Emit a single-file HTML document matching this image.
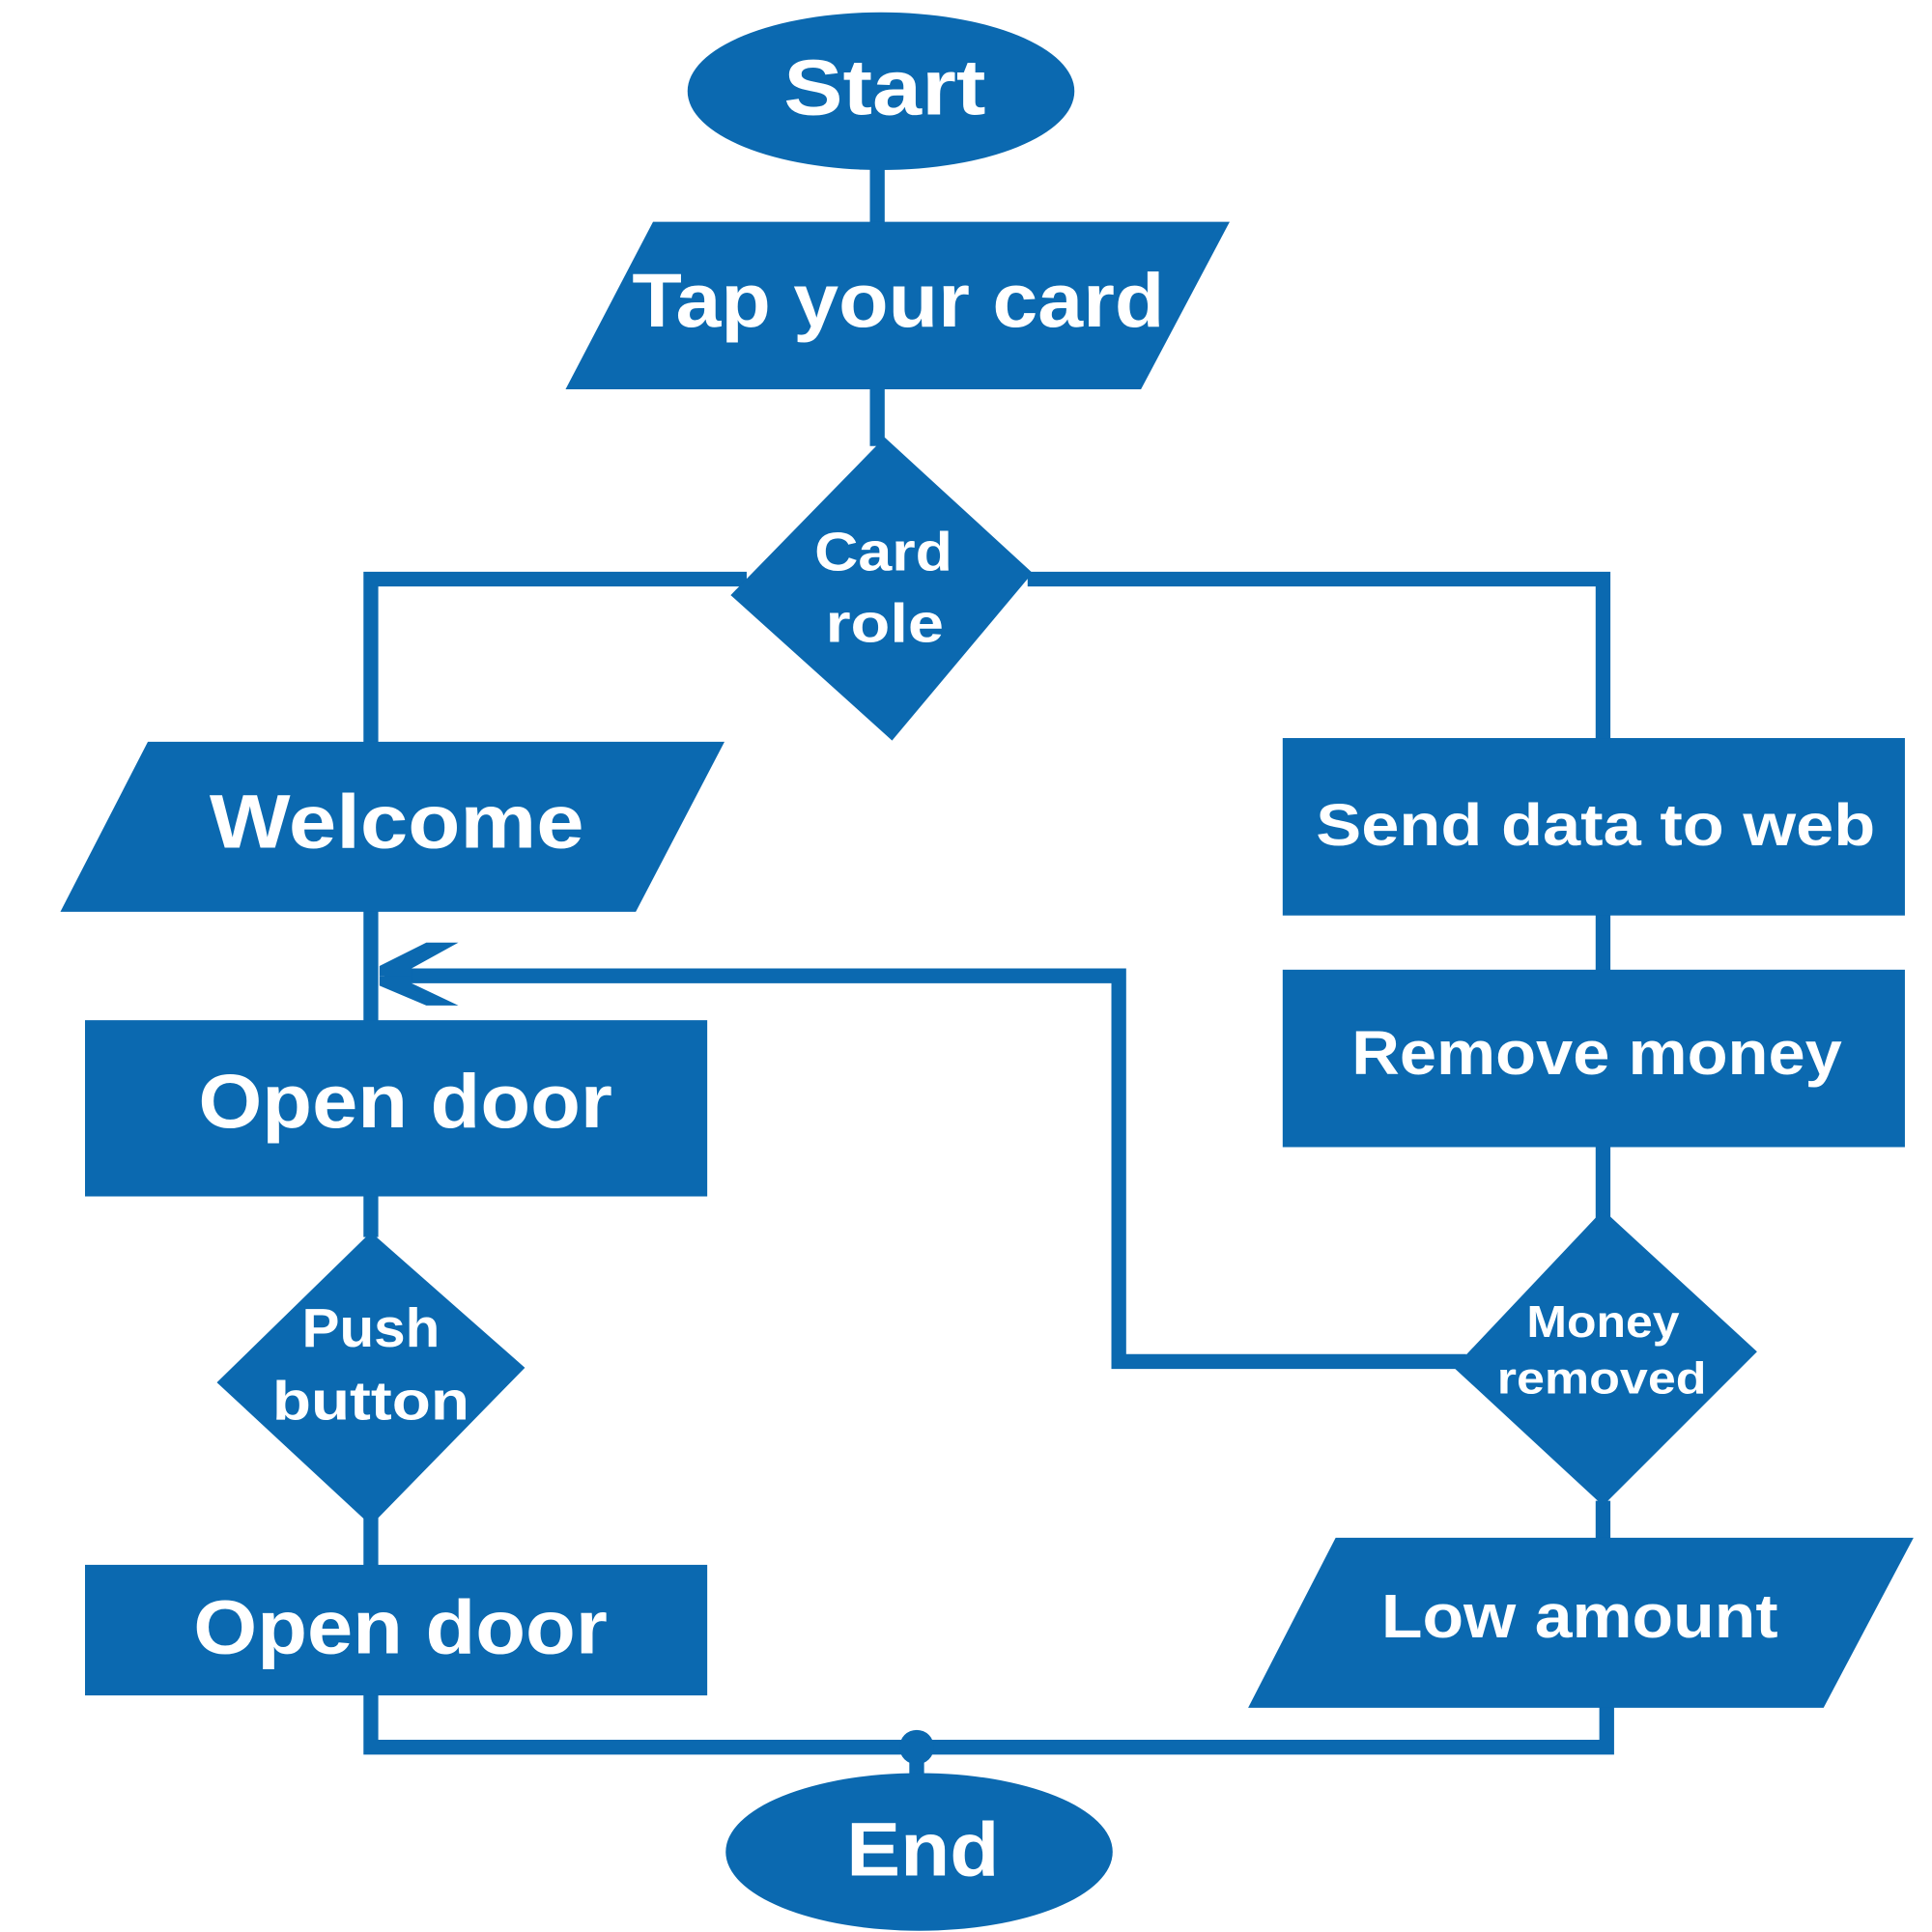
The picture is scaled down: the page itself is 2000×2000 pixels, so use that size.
<!DOCTYPE html>
<html><head><meta charset="utf-8"><style>html,body{margin:0;padding:0;background:#fff}svg{display:block}</style></head>
<body>
<svg width="2000" height="2000" viewBox="0 0 1568 1568" xmlns="http://www.w3.org/2000/svg">
<g fill="none" stroke="#0b69b0" stroke-width="12">
<line x1="712" y1="130" x2="712" y2="182"/>
<line x1="712" y1="314" x2="712" y2="362"/>
<polyline points="606,470 301,470 301,606"/>
<polyline points="834,470 1301,470 1301,602"/>
<line x1="301" y1="738" x2="301" y2="830"/>
<line x1="1301" y1="741" x2="1301" y2="789"/>
<line x1="1301" y1="929" x2="1301" y2="990"/>
<polyline points="1190,1105 908,1105 908,792 312,792"/>
<line x1="301" y1="969" x2="301" y2="1004"/>
<line x1="301" y1="1230" x2="301" y2="1272"/>
<line x1="1301" y1="1218" x2="1301" y2="1252"/>
<polyline points="301,1374 301,1418 1304,1418 1304,1384"/>
<line x1="744" y1="1418" x2="744" y2="1445"/>
</g>
<g fill="#0b69b0">
<polygon points="308,784 346,765 372,765 334,786 334,792 308,792"/>
<polygon points="308,800 346,816 372,816 334,798 334,792 308,792"/>
<circle cx="744" cy="1418" r="14"/>
<ellipse cx="715" cy="74" rx="157" ry="64"/>
<polygon points="530,180 998,180 926,316 459,316"/>
<polygon points="718,355 838,465 724,601 593,483"/>
<polygon points="120,602 588,602 516,740 49,740"/>
<rect x="69" y="828" width="505" height="143"/>
<polygon points="301,1000 426,1110 301,1238 176,1122"/>
<rect x="69" y="1270" width="505" height="106"/>
<ellipse cx="746" cy="1503" rx="157" ry="64"/>
<rect x="1041" y="599" width="505" height="144"/>
<rect x="1041" y="787" width="505" height="144"/>
<polygon points="1301,982 1426,1097 1301,1222 1180,1110"/>
<polygon points="1084,1248 1553,1248 1480,1386 1013,1386"/>
</g>
<g fill="#fff" font-family="Liberation Sans, sans-serif" font-weight="bold" text-anchor="middle">
<text x="718" y="93" font-size="64" textLength="164" lengthAdjust="spacingAndGlyphs">Start</text>
<text x="729" y="265" font-size="62" textLength="432" lengthAdjust="spacingAndGlyphs">Tap your card</text>
<text x="717" y="463" font-size="44" textLength="112" lengthAdjust="spacingAndGlyphs">Card</text>
<text x="718" y="521" font-size="44" textLength="96" lengthAdjust="spacingAndGlyphs">role</text>
<text x="322" y="688" font-size="62" textLength="304" lengthAdjust="spacingAndGlyphs">Welcome</text>
<text x="329" y="915" font-size="62" textLength="336" lengthAdjust="spacingAndGlyphs">Open door</text>
<text x="301" y="1093" font-size="44" textLength="112" lengthAdjust="spacingAndGlyphs">Push</text>
<text x="301" y="1152" font-size="44" textLength="160" lengthAdjust="spacingAndGlyphs">button</text>
<text x="325" y="1342" font-size="62" textLength="336" lengthAdjust="spacingAndGlyphs">Open door</text>
<text x="749" y="1522" font-size="62" textLength="124" lengthAdjust="spacingAndGlyphs">End</text>
<text x="1295" y="686" font-size="48" textLength="454" lengthAdjust="spacingAndGlyphs">Send data to web</text>
<text x="1296" y="872" font-size="50" textLength="398" lengthAdjust="spacingAndGlyphs">Remove money</text>
<text x="1301" y="1085" font-size="36" textLength="124" lengthAdjust="spacingAndGlyphs">Money</text>
<text x="1300" y="1131" font-size="36" textLength="170" lengthAdjust="spacingAndGlyphs">removed</text>
<text x="1282" y="1329" font-size="50" textLength="322" lengthAdjust="spacingAndGlyphs">Low amount</text>
</g>
</svg>
</body></html>
